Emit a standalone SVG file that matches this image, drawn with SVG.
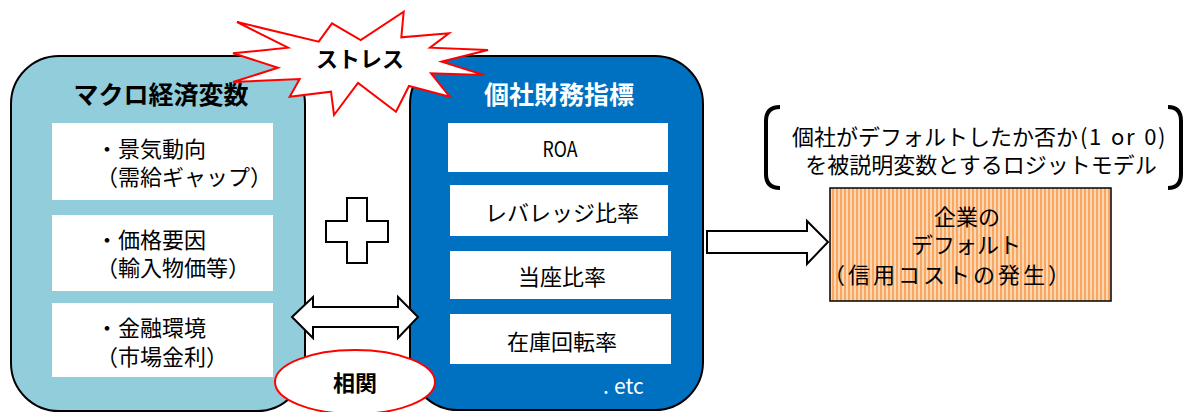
<svg xmlns="http://www.w3.org/2000/svg" width="1186" height="412" viewBox="0 0 1186 412">
<defs>
<style>
.t{font-family:"Noto Sans CJK JP","Liberation Sans",sans-serif;font-size:22px;fill:#000}
.b{font-weight:700}
.h{font-size:25px}
.s{font-size:21px}
.w{fill:#fff}
.m{text-anchor:middle}
.inner{fill:#fff;stroke:none}
.conn{fill:#fff;stroke:#000;stroke-width:2;stroke-linejoin:miter}
</style>
<pattern id="stripes" width="4" height="4" patternUnits="userSpaceOnUse">
<rect width="4" height="4" fill="#FDD6B2"/>
<rect width="2" height="4" fill="#F8A660"/>
</pattern>
</defs>
<rect width="1186" height="412" fill="#fff"/>

<g id="macro">
<rect x="11" y="56" width="294" height="355" rx="48" ry="48" fill="#92CDDC" stroke="#000" stroke-width="2"/>
<text class="t b m h" x="161" y="104">マクロ経済変数</text>
<rect class="inner" x="52" y="123" width="221" height="77"/>
<text class="t" x="96" y="157">・景気動向</text>
<text class="t" x="96" y="185">（需給ギャップ）</text>
<rect class="inner" x="52" y="215" width="221" height="76"/>
<text class="t" x="96" y="248">・価格要因</text>
<text class="t" x="96" y="276">（輸入物価等）</text>
<rect class="inner" x="52" y="303" width="221" height="74"/>
<text class="t" x="96" y="336">・金融環境</text>
<text class="t" x="96" y="365">（市場金利）</text>
</g>

<g id="firm">
<rect x="410" y="56" width="293" height="354" rx="48" ry="48" fill="#0070C0" stroke="#000" stroke-width="2"/>
<text class="t b w m h" x="559" y="104">個社財務指標</text>
<rect class="inner" x="448" y="123" width="220" height="49"/>
<text class="t m s" x="560" y="157" textLength="35" lengthAdjust="spacingAndGlyphs">ROA</text>
<rect class="inner" x="450" y="185" width="218" height="51"/>
<text class="t m" x="562" y="221">レバレッジ比率</text>
<rect class="inner" x="450" y="251" width="221" height="48"/>
<text class="t m" x="562" y="285">当座比率</text>
<rect class="inner" x="450" y="314" width="221" height="50"/>
<text class="t m" x="562" y="350">在庫回転率</text>
<text class="t w s" x="603" y="394">.<tspan x="614">etc</tspan></text>
</g>

<g id="stress">
<polygon points="237,22 318.7,41.7 332,23.3 360.7,40 403.7,11.7 401.3,37.3 449,33.3 430,47.7 488,50 441.5,61.7 484,75 431,73.3 449.7,96.7 409,86 396,111.7 358,83 334,115 331,91.7 289.7,96.7 299.7,79 233,82 278,67.7 233,53.3 288,47.7" fill="#fff" stroke="#FF0000" stroke-width="2" stroke-linejoin="miter"/>
<text class="t b m" x="360" y="67">ストレス</text>
</g>

<g id="plus">
<polygon class="conn" points="347,198 367,198 367,221 388,221 388,242 367,242 367,263 347,263 347,242 326,242 326,221 347,221"/>
</g>

<g id="correlation">
<ellipse cx="355" cy="382" rx="80" ry="32" fill="#fff" stroke="#FF0000" stroke-width="2"/>
<text class="t b m" x="355" y="391">相関</text>
</g>

<g id="model-note">
<path d="M780,107 Q766,107 766,121 L766,174 Q766,188 780,188" fill="none" stroke="#000" stroke-width="4"/>
<path d="M1168,107 Q1181,107 1181,121 L1181,174 Q1181,188 1168,188" fill="none" stroke="#000" stroke-width="4"/>
<text class="t" x="792" y="145">個社がデフォルトしたか否か<tspan x="1080" letter-spacing="1.5" word-spacing="2">(1 or 0)</tspan></text>
<text class="t m" x="981" y="173">を被説明変数とするロジットモデル</text>
</g>

<g id="default">
<rect x="830" y="188" width="281" height="113" fill="url(#stripes)" stroke="#000" stroke-width="1.5"/>
<text class="t m" x="967" y="225">企業の</text>
<text class="t m" x="966" y="253">デフォルト</text>
<text class="t" x="823" y="283" letter-spacing="3">（信用コストの発生）</text>
</g>

<g id="connectors">
<polygon class="conn" points="292,317 313,297 313,307 398,307 398,297 418,317 398,338 398,327 313,327 313,338"/>
<polygon class="conn" points="707,231 807,231 807,221 828,242 807,264 807,253 707,253"/>
</g>
</svg>
